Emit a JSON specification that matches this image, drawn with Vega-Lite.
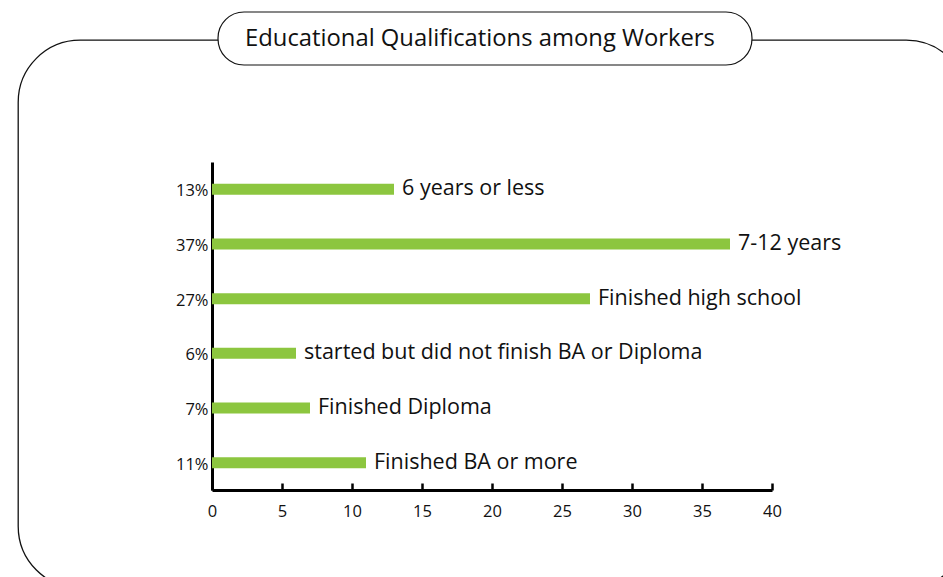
{
  "$schema": "https://vega.github.io/schema/vega-lite/v6.json",
  "autosize": "none",
  "padding": {"left": 18, "top": 40, "right": -25, "bottom": -11},
  "width": 950,
  "height": 548,
  "config": {
    "font": "Open Sans",
    "view": {"stroke": "#111111", "strokeWidth": 1.3, "cornerRadius": 62, "fill": "white"},
    "background": "white"
  },
  "layer": [
    {
      "data": {"values": [
        {"share": "13%", "value": 13, "category": "6 years or less"},
        {"share": "37%", "value": 37, "category": "7-12 years"},
        {"share": "27%", "value": 27, "category": "Finished high school"},
        {"share": "6%", "value": 6, "category": "started but did not finish BA or Diploma"},
        {"share": "7%", "value": 7, "category": "Finished Diploma"},
        {"share": "11%", "value": 11, "category": "Finished BA or more"}
      ]},
      "encoding": {
        "y": {
          "field": "share", "type": "nominal", "sort": null,
          "scale": {"range": [122, 450], "paddingInner": 0.8, "paddingOuter": 0.4},
          "axis": {
            "title": null, "orient": "left", "offset": -194, "ticks": false,
            "domainColor": "black", "domainWidth": 3, "labelFontSize": 16.5, "labelColor": "#111",
            "labelPadding": 4, "labelFont": "Open Sans", "labelOffset": 2
          }
        },
        "x": {
          "field": "value", "type": "quantitative",
          "scale": {"domain": [0, 40], "range": [194, 754], "nice": false},
          "axis": {
            "title": null, "orient": "bottom", "offset": -98, "values": [0, 5, 10, 15, 20, 25, 30, 35, 40],
            "grid": false, "domainColor": "black", "domainWidth": 3, "tickColor": "black", "tickWidth": 2.5,
            "tickSize": -7, "labelFontSize": 16.5, "labelColor": "#111", "labelPadding": 20, "labelFont": "Open Sans",
            "labelFlush": false
          }
        }
      },
      "layer": [
        {"mark": {"type": "bar", "color": "#8cc63f", "orient": "horizontal"}},
        {
          "mark": {"type": "text", "align": "left", "baseline": "middle", "dx": 8, "fontSize": 21.5, "color": "#111", "font": "Open Sans"},
          "encoding": {"text": {"field": "category"}}
        }
      ]
    },
    {
      "data": {"values": [{"title": "Educational Qualifications among Workers"}]},
      "layer": [
        {
          "mark": {"type": "rect", "fill": "white", "stroke": "#111111", "strokeWidth": 1.2, "cornerRadius": 26},
          "encoding": {
            "x": {"datum": 0.43, "type": "quantitative"},
            "x2": {"datum": 38.57},
            "y": {"value": -28},
            "y2": {"value": 25}
          }
        },
        {
          "mark": {"type": "text", "align": "center", "baseline": "middle", "fontSize": 23.8, "color": "#111", "font": "Open Sans"},
          "encoding": {
            "x": {"datum": 19.14, "type": "quantitative"},
            "y": {"value": -1},
            "text": {"field": "title"}
          }
        }
      ]
    }
  ]
}
